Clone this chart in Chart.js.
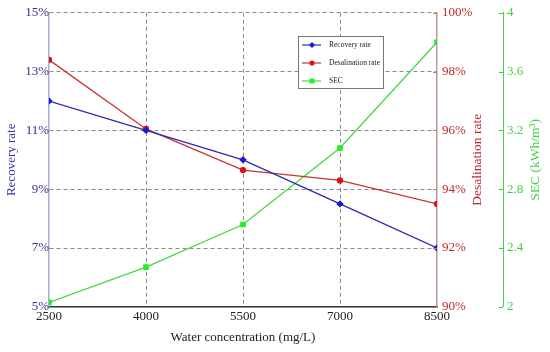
<!DOCTYPE html>
<html lang="en">
<head>
    <meta charset="UTF-8">
    <title>Recovery / Desalination / SEC</title>
    <script src="https://cdn.jsdelivr.net/npm/chart.js"></script>
    <style>
        body { margin: 0; background: #fff; }
        .chart-box { width: 550px; height: 352px; }
    </style>
</head>
<body>
    <div class="chart-box"><canvas id="mainChart"></canvas></div>

    <script>
        // values
        const concentrations = [2500, 4000, 5500, 7000, 8500];
        const recoveryRate = [12, 11, 10, 8.5, 7];           // %
        const desalinationRate = [98.4, 96.05, 94.65, 94.3, 93.5]; // %
        const sec = [2.03, 2.27, 2.56, 3.08, 3.8];           // kWh/m3

        const serif = 'Liberation Serif';
        const toPoints = vals => vals.map((v, i) => ({ x: concentrations[i], y: v }));

        // right axis titles read bottom-to-top, plus legend box
        const extras = {
            id: 'extras',
            afterDraw(chart) {
                const ctx = chart.ctx;
                const ca = chart.chartArea;
                const midY = (ca.top + ca.bottom) / 2;

                ctx.save();
                ctx.font = '13.5px ' + serif;
                ctx.textAlign = 'center';
                ctx.textBaseline = 'middle';
                ctx.fillStyle = '#c02828';
                ctx.translate(chart.scales.y2.right - 26, midY);
                ctx.rotate(-Math.PI / 2);
                ctx.fillText('Desalination rate', 0, 0);
                ctx.restore();

                ctx.save();
                ctx.font = '13.5px ' + serif;
                ctx.textAlign = 'center';
                ctx.textBaseline = 'middle';
                ctx.fillStyle = '#3fd23f';
                ctx.translate(chart.scales.y3.right - 15, midY);
                ctx.rotate(-Math.PI / 2);
                ctx.fillText('SEC (kWh/m\u00b3)', 0, 0);
                ctx.restore();

                // inward ticks on the two right axes
                ['y2', 'y3'].forEach(id => {
                    const s = chart.scales[id];
                    ctx.save();
                    ctx.strokeStyle = id === 'y2' ? '#b08080' : '#44cc44';
                    ctx.lineWidth = 1;
                    s.ticks.forEach(t => {
                        const py = Math.round(s.getPixelForValue(t.value)) + 0.5;
                        ctx.beginPath();
                        ctx.moveTo(s.left - 4, py);
                        ctx.lineTo(s.left, py);
                        ctx.stroke();
                    });
                    ctx.restore();
                });

                // legend
                const bx = 298, by = 36, bw = 85, bh = 52;
                ctx.save();
                ctx.fillStyle = '#fff';
                ctx.fillRect(bx, by, bw, bh);
                ctx.strokeStyle = '#777';
                ctx.lineWidth = 1;
                ctx.strokeRect(bx + 0.5, by + 0.5, bw, bh);
                ctx.font = '7.5px ' + serif;
                ctx.textBaseline = 'middle';
                chart.data.datasets.forEach((ds, i) => {
                    const ly = by + 9 + i * 18;
                    ctx.strokeStyle = ds.borderColor;
                    ctx.lineWidth = 1.2;
                    ctx.beginPath();
                    ctx.moveTo(bx + 4, ly);
                    ctx.lineTo(bx + 23, ly);
                    ctx.stroke();
                    ctx.fillStyle = ds.pointBackgroundColor;
                    ctx.beginPath();
                    if (ds.pointStyle === 'rectRot') {
                        ctx.moveTo(bx + 14, ly - 3); ctx.lineTo(bx + 17, ly);
                        ctx.lineTo(bx + 14, ly + 3); ctx.lineTo(bx + 11, ly);
                    } else if (ds.pointStyle === 'rect') {
                        ctx.rect(bx + 11.5, ly - 2.5, 5, 5);
                    } else {
                        ctx.arc(bx + 14, ly, 2.6, 0, Math.PI * 2);
                    }
                    ctx.fill();
                    ctx.fillStyle = '#222';
                    ctx.fillText(ds.label, bx + 31, ly);
                });
                ctx.restore();
            }
        };

        const ctx = document.getElementById('mainChart').getContext('2d');
        new Chart(ctx, {
            type: 'line',
            data: {
                datasets: [{
                    label: 'Recovery rate',
                    data: toPoints(recoveryRate),
                    yAxisID: 'y',
                    borderColor: '#2b2bb0',
                    pointBackgroundColor: '#1a1ad0',
                    pointBorderColor: '#1a1ad0',
                    pointStyle: 'rectRot',
                    pointRadius: 2.8,
                    borderWidth: 1.3
                }, {
                    label: 'Desalination rate',
                    data: toPoints(desalinationRate),
                    yAxisID: 'y2',
                    borderColor: '#c83434',
                    pointBackgroundColor: '#e01010',
                    pointBorderColor: '#e01010',
                    pointStyle: 'circle',
                    pointRadius: 2.5,
                    borderWidth: 1.3
                }, {
                    label: 'SEC',
                    data: toPoints(sec),
                    yAxisID: 'y3',
                    borderColor: '#44d844',
                    pointBackgroundColor: '#22ee22',
                    pointBorderColor: '#22ee22',
                    pointStyle: 'rect',
                    pointRadius: 3,
                    borderWidth: 1.3
                }]
            },
            options: {
                responsive: true,
                maintainAspectRatio: false,
                animation: false,
                layout: { padding: { top: 6, bottom: 7, right: 0, left: 0 } },
                plugins: {
                    legend: { display: false },
                    tooltip: { enabled: false }
                },
                scales: {
                    x: {
                        type: 'linear',
                        min: 2500,
                        max: 8500,
                        ticks: {
                            stepSize: 1500,
                            color: '#222',
                            font: { family: serif, size: 13 },
                            padding: 2,
                            callback: v => String(v)
                        },
                        grid: {
                            // no dashed line over the left / right axis lines
                            color: c => (c.tick && (c.tick.value === 2500 || c.tick.value === 8500)) ? 'rgba(0,0,0,0)' : '#8a8a8a',
                            drawTicks: false,
                            lineWidth: 1
                        },
                        border: { color: '#333', width: 1.5, dash: [4, 3] },
                        title: {
                            display: true,
                            text: 'Water concentration (mg/L)',
                            color: '#222',
                            font: { family: serif, size: 13 },
                            padding: { top: 3, bottom: 0 }
                        }
                    },
                    y: {
                        position: 'left',
                        min: 5,
                        max: 15,
                        ticks: {
                            stepSize: 2,
                            color: '#303090',
                            font: { family: serif, size: 13 },
                            padding: 0,
                            callback: v => v + '%'
                        },
                        grid: {
                            color: c => (c.tick && c.tick.value === 5) ? 'rgba(0,0,0,0)' : '#8a8a8a',
                            drawTicks: false
                        },
                        border: { color: '#a8acd8', width: 1.5, dash: [4, 3] },
                        title: {
                            display: true,
                            text: 'Recovery rate',
                            color: '#3434b0',
                            font: { family: serif, size: 13 },
                            padding: { top: 4, bottom: 2 }
                        },
                        afterFit: s => { s.width = 49; }
                    },
                    y2: {
                        position: 'right',
                        min: 90,
                        max: 100,
                        ticks: {
                            stepSize: 2,
                            color: '#c02828',
                            font: { family: serif, size: 13 },
                            padding: 5,
                            callback: v => v + '%'
                        },
                        grid: { drawOnChartArea: false, drawTicks: false },
                        border: { color: '#c09898', width: 1.5 },
                        afterFit: s => { s.width = 66; }
                    },
                    y3: {
                        position: 'right',
                        min: 2,
                        max: 4,
                        ticks: {
                            stepSize: 0.4,
                            color: '#3fd23f',
                            font: { family: serif, size: 13 },
                            padding: 4,
                            callback: v => String(+v.toFixed(1))
                        },
                        grid: { drawOnChartArea: false, drawTicks: false },
                        border: { color: '#55cc55', width: 1 },
                        afterFit: s => { s.width = 47; }
                    }
                }
            },
            plugins: [extras]
        });
    </script>
</body>
</html>
